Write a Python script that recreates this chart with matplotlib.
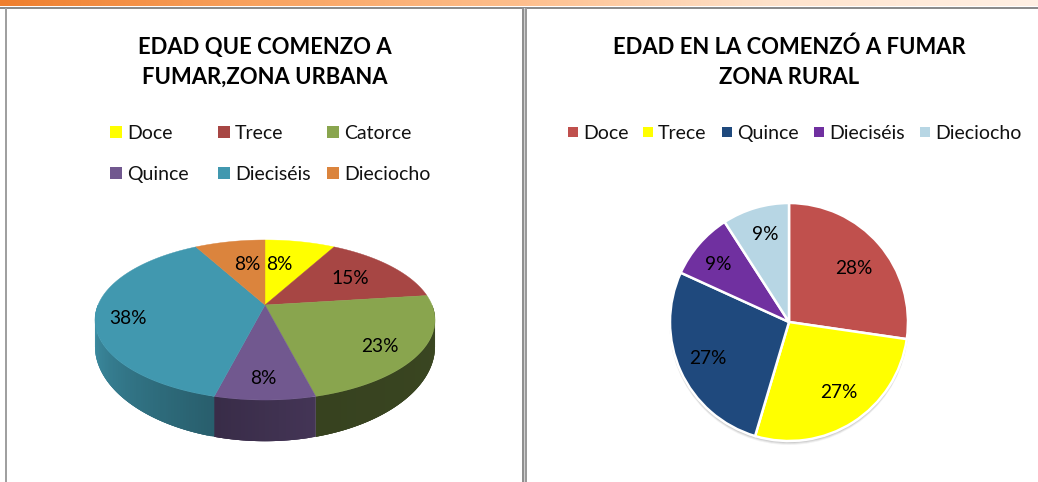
import numpy as np
import matplotlib
matplotlib.use("Agg")
import matplotlib.pyplot as plt
from matplotlib.colors import LinearSegmentedColormap, to_rgb
from matplotlib.patches import Rectangle, Ellipse

plt.rcParams['font.family'] = ['Lato', 'DejaVu Sans']

# ---- data
urban_title = "EDAD QUE COMENZO A\nFUMAR,ZONA URBANA"
urban_labels = ["Doce", "Trece", "Catorce", "Quince", "Dieciséis", "Dieciocho"]
urban_values = [8, 15, 23, 8, 38, 8]
urban_colors = ["#FFFF00", "#A74644", "#89A54E", "#71588F", "#4198AF", "#DB843D"]

rural_title = "EDAD EN LA COMENZÓ A FUMAR\nZONA RURAL"
rural_labels = ["Doce", "Trece", "Quince", "Dieciséis", "Dieciocho"]
rural_values = [27.3, 27.3, 27.2, 9.1, 9.1]
rural_pct = ["28%", "27%", "27%", "9%", "9%"]
rural_colors = ["#C0504D", "#FFFF00", "#1F497D", "#7030A0", "#B7D6E4"]

W, H = 1038, 482
fig = plt.figure(figsize=(W / 100, H / 100), dpi=100, facecolor="white")
ax = fig.add_axes([0, 0, 1, 1])
ax.set_xlim(0, W)
ax.set_ylim(H, 0)
ax.axis("off")

# ---- window chrome
cm = LinearSegmentedColormap.from_list(
    "strip", ["#EF7F2E", "#F9A360", "#FDBE8C", "#FFE3CC", "#FFF0E4"])
ax.imshow(np.linspace(0, 1, 512)[None, :], extent=(0, W, 6.5, 0), cmap=cm,
          aspect="auto", zorder=1)
ax.set_xlim(0, W)
ax.set_ylim(H, 0)
ax.add_patch(Rectangle((0, 6.5), W, 2.5, fc="#8C8C8C", ec="none", zorder=2))
ax.add_patch(Rectangle((5, 8), 2.2, H, fc="#A0A0A0", ec="none", zorder=2))
ax.add_patch(Rectangle((522, 8), 2, H, fc="#8F8F8F", ec="none", zorder=2))
ax.add_patch(Rectangle((524, 8), 1, H, fc="#D0D0D0", ec="none", zorder=2))
ax.add_patch(Rectangle((525, 8), 2, H, fc="#9A9A9A", ec="none", zorder=2))

# ---- titles
TITLE = dict(ha="center", va="center", fontsize=15.8, fontweight="bold",
             color="black", linespacing=1.5, zorder=5)
ax.text(265, 62, urban_title, **TITLE)
ax.text(789, 62, rural_title, **TITLE)


# ---- legends
def legend_entry(x, y, size, color, label):
    ax.add_patch(Rectangle((x, y - size / 2), size, size, fc=color, ec="none", zorder=5))
    ax.text(x + size + 5, y, label, ha="left", va="center_baseline",
            fontsize=14.0, color="#111111", zorder=5)


urban_leg_x = [110, 218, 327, 110, 218, 327]
urban_leg_y = [132, 132, 132, 173, 173, 173]
for x, y, c, l in zip(urban_leg_x, urban_leg_y, urban_colors, urban_labels):
    legend_entry(x, y, 12, c, l)

rural_leg_x = [568, 643, 722, 814, 920]
for x, c, l in zip(rural_leg_x, rural_colors, rural_labels):
    legend_entry(x, 132, 10, c, l)

# ---- urban 3-D pie (perspective projection of the slices)
CX, CY, SX, SY, K = 265, 305, 167, 77.2, 0.1875


def project(theta):
    px, py = np.sin(theta), np.cos(theta)
    w = 1 + K * py
    return CX + SX * px / w, CY - SY * py / w, w


def shade(color, f):
    return tuple(np.clip(np.array(to_rgb(color)) * f, 0, 1))


side_dark = {"#4198AF": (0.98, 0.62), "#71588F": (0.60, 0.50), "#89A54E": (0.43, 0.40)}
edges = np.cumsum([0] + urban_values) / sum(urban_values) * 2 * np.pi

# side wall, only the part of the rim that faces the viewer
# (the wall is painted from the outer ends inward so that strips overlap cleanly)
for i, col in enumerate(urban_colors):
    a0, a1 = edges[i], edges[i + 1]
    lo, hi = max(a0, np.pi / 2), min(a1, 3 * np.pi / 2)
    if hi <= lo or col not in side_dark:
        continue
    t = np.linspace(lo, hi, max(int((hi - lo) * 60), 2) + 1)
    start, end = side_dark[col]
    if col == "#4198AF":
        start, end = end, start  # light toward the far left
    for j in range(len(t) - 1):
        seg = np.linspace(t[j], t[min(j + 3, len(t) - 1)], 5)
        x, y, w = project(seg)
        d = 24 / w ** 2.6
        f = start + (end - start) * (j + 0.5) / (len(t) - 1)
        ax.fill(np.r_[x, x[::-1]], np.r_[y, (y + d)[::-1]], fc=shade(col, f), ec="none", zorder=3)

# top faces
for i, col in enumerate(urban_colors):
    t = np.linspace(edges[i], edges[i + 1], 120)
    x, y, _ = project(t)
    ax.fill(np.r_[CX, x], np.r_[CY, y], fc=col, ec=col, lw=0.3, zorder=4)

urban_pct = [f"{v}%" for v in urban_values]
urban_lab_x = [279, 350, 380, 263, 128, 247]
urban_lab_y = [265, 279, 347, 379, 318, 265]
for x, y, s in zip(urban_lab_x, urban_lab_y, urban_pct):
    ax.text(x, y, s, ha="center", va="center", fontsize=13.8, color="black", zorder=6)

# ---- rural flat pie
RCX, RCY, R = 789, 322, 119
pie_ax = fig.add_axes([(RCX - R - 2) / W, 1 - (RCY + R + 2) / H, (2 * R + 4) / W, (2 * R + 4) / H])
pie_ax.patch.set_alpha(0)

# soft shadow below the disc
for off, al in zip([3.5, 2.5, 1.5], [0.05, 0.07, 0.09]):
    ax.add_patch(Ellipse((RCX, RCY + off), 2 * R + 1, 2 * R + 1,
                         fc="black", alpha=al, ec="none", zorder=3))

wedges, _ = pie_ax.pie(rural_values, colors=rural_colors, startangle=90, counterclock=False,
                       radius=1.0, wedgeprops=dict(edgecolor="white", linewidth=1.8))
pie_ax.set_xlim(-(R + 2) / R, (R + 2) / R)
pie_ax.set_ylim(-(R + 2) / R, (R + 2) / R)
pie_ax.set_zorder(4)

rural_lab_x = [854, 839, 708, 718, 765]
rural_lab_y = [269, 392, 359, 265, 234]
lab_ax = fig.add_axes([0, 0, 1, 1], zorder=6)
lab_ax.set_xlim(0, W)
lab_ax.set_ylim(H, 0)
lab_ax.axis("off")
for x, y, s in zip(rural_lab_x, rural_lab_y, rural_pct):
    lab_ax.text(x, y, s, ha="center", va="center", fontsize=13.8, color="black")

fig.savefig("out.png", dpi=100, facecolor="white")
